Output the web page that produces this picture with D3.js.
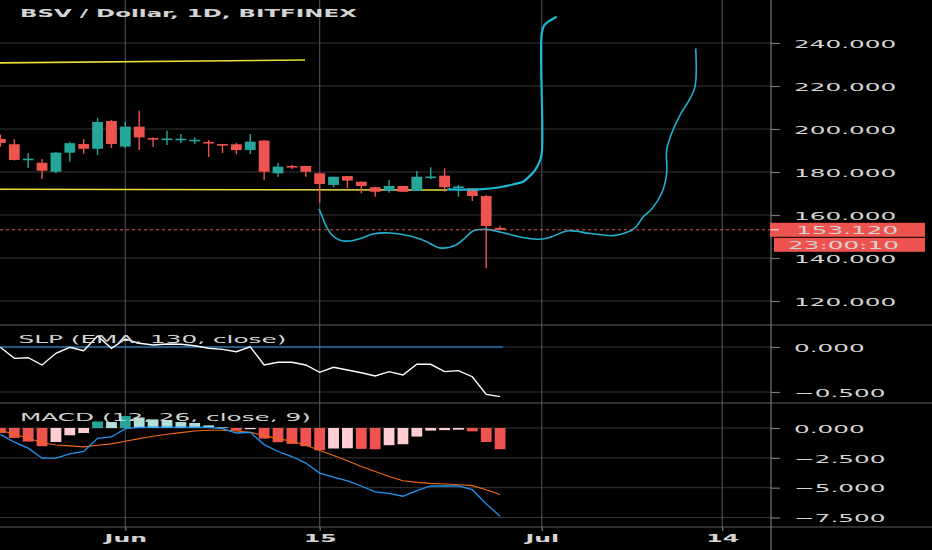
<!doctype html>
<html lang="en">
<head>
<meta charset="utf-8">
<title>BSV / Dollar, 1D, BITFINEX</title>
<script src="https://cdn.jsdelivr.net/npm/d3@7"></script>
<style>
  html, body { margin: 0; padding: 0; background: #000; }
  svg { display: block; background: #000; }
  text { font-family: "DejaVu Sans", sans-serif; fill: #d4d4d4; }
</style>
</head>
<body>
<svg></svg>
<script>
    var width = 932;
    var height = 550;

    // daily candles, first one is May 23
    var openP  = [195.4, 192.9, 185.8, 184.3, 180.1, 189.0, 193.0, 190.8, 203.7, 191.8, 201.1, 195.8, 195.2, 195.2, 194.7, 194.0, 193.0, 192.9, 190.2, 194.6, 179.4, 182.8, 182.8, 179.4, 174.0, 178.1, 175.5, 172.9, 171.2, 173.5, 171.2, 177.6, 178.3, 173.0, 172.4, 168.8, 154.0];
    var highP  = [197.5, 195.2, 188.8, 186.0, 189.4, 194.1, 195.3, 205.1, 204.2, 203.4, 208.5, 196.0, 199.2, 197.7, 196.0, 194.9, 193.1, 193.6, 197.7, 194.9, 184.2, 183.3, 182.8, 179.7, 177.8, 178.1, 175.5, 172.9, 176.3, 173.5, 180.5, 182.2, 181.7, 174.0, 172.4, 169.3, 155.0];
    var lowP   = [191.8, 185.3, 181.9, 176.7, 179.4, 184.8, 188.4, 187.9, 191.2, 191.2, 190.2, 191.6, 192.6, 193.5, 192.9, 187.0, 188.8, 188.2, 188.4, 176.3, 177.8, 181.4, 177.8, 165.7, 172.9, 172.4, 170.1, 168.5, 170.4, 170.6, 171.2, 176.6, 170.8, 168.5, 166.5, 135.2, 153.0];
    var closeP = [193.5, 185.6, 186.2, 180.6, 189.0, 193.4, 190.8, 203.3, 193.0, 201.1, 196.1, 195.5, 195.6, 195.5, 195.0, 193.7, 192.7, 190.2, 194.1, 180.1, 182.5, 182.5, 180.1, 174.4, 177.8, 176.0, 173.5, 170.8, 173.5, 170.8, 177.8, 177.9, 172.9, 173.3, 168.8, 154.9, 153.12];

    var slp = [-0.003, -0.126, -0.119, -0.2, -0.07, -0.003, -0.041, 0.122, -0.014, 0.089, 0.041, 0.022, 0.033, 0.03, 0.014, -0.014, -0.026, -0.052, 0.003, -0.2, -0.17, -0.17, -0.2, -0.281, -0.226, -0.256, -0.286, -0.322, -0.274, -0.311, -0.192, -0.192, -0.274, -0.263, -0.33, -0.526, -0.552];

    var macdHist = [-0.42, -0.83, -1.14, -1.53, -1.17, -0.61, -0.42, 0.55, 0.5, 1.0, 0.88, 0.72, 0.62, 0.5, 0.42, 0.22, 0.06, -0.22, -0.1, -0.89, -1.19, -1.33, -1.53, -1.86, -1.72, -1.70, -1.75, -1.78, -1.44, -1.36, -0.72, -0.22, -0.18, -0.14, -0.28, -1.17, -1.78];
    var macdLine = [-0.53, -1.19, -1.69, -2.53, -2.53, -2.17, -1.97, -0.86, -0.75, -0.06, 0.06, 0.08, 0.08, 0.08, 0.08, 0.06, -0.05, -0.42, -0.36, -1.39, -1.97, -2.39, -2.94, -3.78, -4.11, -4.44, -4.86, -5.36, -5.47, -5.72, -5.25, -4.86, -4.86, -4.86, -5.17, -6.36, -7.39];
    var signalLine = [-0.19, -0.53, -0.86, -1.22, -1.42, -1.5, -1.58, -1.44, -1.33, -1.11, -0.89, -0.69, -0.53, -0.39, -0.25, -0.19, -0.19, -0.25, -0.36, -0.64, -0.89, -1.11, -1.42, -1.89, -2.31, -2.75, -3.22, -3.64, -4.06, -4.42, -4.56, -4.64, -4.69, -4.75, -4.83, -5.17, -5.58];

    // drawings: [day index, price]
    var upperYellow = [[-1, 230.7], [21.95, 232.1]];
    var lowerYellow = [[-1, 172.0], [32.2, 171.6]];
    var cyanUpper = [[32.2, 171.95], [34.5, 171.95], [36.0, 172.9], [37.05, 174.4], [37.65, 175.5], [38.15, 178.2], [38.52, 180.9], [38.8, 184.2], [39.0, 188.7], [39.0, 244.5], [39.2, 248.4], [39.47, 249.9], [40.08, 252.2]];
    var cyanLower = [[22.95, 162.8], [23.17, 159.5], [23.46, 154.9], [23.89, 150.7], [24.47, 148.3], [25.19, 147.9], [26.05, 149.3], [26.84, 151.2], [28.07, 151.6], [29.51, 150.2], [30.59, 147.9], [31.67, 144.7], [32.75, 145.8], [33.47, 149.3], [34.05, 152.6], [34.99, 153.3], [35.99, 152.1], [37.43, 149.8], [38.88, 148.7], [39.6, 149.6], [40.89, 152.7], [42.48, 151.4], [44.13, 150.4], [44.99, 151.6], [45.72, 154.0], [46.3, 159.1], [46.92, 162.8], [47.64, 170.1], [48.0, 179.4], [48.0, 190.2], [48.36, 198.0], [48.96, 206.5], [49.56, 212.7], [50.04, 219.7], [50.09, 237.5]];

    var priceTicks = [120, 140, 160, 180, 200, 220, 240];
    var slpTicks = [0, -0.5];
    var macdTicks = [0, -2.5, -5, -7.5];
    var dateTickIdx = [9, 23, 39, 52];
    var dateTickLabels = ["Jun", "15", "Jul", "14"];
    var lastPrice = 153.12;
    var countdown = "23:00:10";

    var SX = 2.25;       // screenshot text is stretched sideways
    var axisX = 771;
    var red = "#ef5350", green = "#26a69a";

    var svg = d3.select("svg").attr("width", width).attr("height", height);

    var x = d3.scaleLinear().domain([0, 52]).range([0.4, 722.2]);
    var yP = d3.scaleLinear().domain([120, 240]).range([301, 43]);
    var yS = d3.scaleLinear().domain([-0.5, 0]).range([392, 347]);
    var yM = d3.scaleLinear().domain([-7.5, 0]).range([517.5, 428]);

    var defs = svg.append("defs");
    function clip(id, y0, y1) {
        defs.append("clipPath").attr("id", id).append("rect")
            .attr("x", 0).attr("y", y0).attr("width", axisX).attr("height", y1 - y0);
    }
    clip("cp", 0, 325);
    clip("cs", 325, 403);
    clip("cm", 403, 527);

    // grid
    var grid = svg.append("g");
    function hgrid(vals, scale) {
        grid.selectAll(null).data(vals).enter().append("line")
            .attr("x1", 0).attr("x2", axisX)
            .attr("y1", function (d) { return scale(d); })
            .attr("y2", function (d) { return scale(d); })
            .attr("stroke", "#363636").attr("stroke-width", 1);
    }
    hgrid(priceTicks, yP);
    hgrid(slpTicks, yS);
    hgrid(macdTicks, yM);

    grid.selectAll(null).data(dateTickIdx).enter().append("line")
        .attr("x1", function (d) { return x(d); }).attr("x2", function (d) { return x(d); })
        .attr("y1", 0).attr("y2", 527)
        .attr("stroke", "#46475c").attr("stroke-width", 1.2);

    // panel separators + price scale border
    svg.selectAll(null).data([325, 403, 527]).enter().append("line")
        .attr("x1", 0).attr("x2", width).attr("y1", function (d) { return d; }).attr("y2", function (d) { return d; })
        .attr("stroke", "#5c5c5c").attr("stroke-width", 1.2);
    svg.append("line").attr("x1", axisX).attr("x2", axisX).attr("y1", 0).attr("y2", height)
        .attr("stroke", "#777").attr("stroke-width", 1.2);

    // ---- price panel
    var pg = svg.append("g").attr("clip-path", "url(#cp)");
    var ptLine = d3.line().x(function (d) { return x(d[0]); }).y(function (d) { return yP(d[1]); });

    pg.append("path").datum(upperYellow).attr("d", ptLine)
        .attr("fill", "none").attr("stroke", "#e8df3a").attr("stroke-width", 1.6);
    pg.append("path").datum(lowerYellow).attr("d", ptLine)
        .attr("fill", "none").attr("stroke", "#e8df3a").attr("stroke-width", 1.6);

    var idx = d3.range(openP.length);
    var bw = 10.8;
    function col(i) { return closeP[i] >= openP[i] ? green : red; }

    pg.selectAll("line.wick").data(idx).enter().append("line")
        .attr("class", "wick")
        .attr("x1", function (i) { return x(i); }).attr("x2", function (i) { return x(i); })
        .attr("y1", function (i) { return yP(highP[i]); }).attr("y2", function (i) { return yP(lowP[i]); })
        .attr("stroke", col).attr("stroke-width", 1.4);

    pg.selectAll("rect.body").data(idx).enter().append("rect")
        .attr("class", "body")
        .attr("x", function (i) { return x(i) - bw / 2; })
        .attr("y", function (i) { return yP(Math.max(openP[i], closeP[i])); })
        .attr("width", bw)
        .attr("height", function (i) { return Math.max(1.6, Math.abs(yP(openP[i]) - yP(closeP[i]))); })
        .attr("fill", col);

    var cyLine = d3.line().curve(d3.curveCatmullRom.alpha(0.5))
        .x(function (d) { return x(d[0]); }).y(function (d) { return yP(d[1]); });
    pg.append("path").datum(cyanLower).attr("d", cyLine)
        .attr("fill", "none").attr("stroke", "#1fb1cc").attr("stroke-width", 1.6);
    pg.append("path").datum(cyanUpper).attr("d", cyLine)
        .attr("fill", "none").attr("stroke", "#1fb8d4").attr("stroke-width", 2.2);

    // last price line
    svg.append("line").attr("x1", 0).attr("x2", axisX)
        .attr("y1", yP(lastPrice)).attr("y2", yP(lastPrice))
        .attr("stroke", red).attr("stroke-width", 1).attr("stroke-dasharray", "3,3");

    // ---- SLP panel
    var sg = svg.append("g").attr("clip-path", "url(#cs)");
    sg.append("line").attr("x1", x(-1)).attr("x2", x(36.2))
        .attr("y1", yS(0)).attr("y2", yS(0))
        .attr("stroke", "#2196f3").attr("stroke-width", 1);
    sg.append("path").datum(slp)
        .attr("d", d3.line().x(function (d, i) { return x(i); }).y(function (d) { return yS(d); }))
        .attr("fill", "none").attr("stroke", "#fff").attr("stroke-width", 1.4);

    // ---- MACD panel
    var mg = svg.append("g").attr("clip-path", "url(#cm)");
    function histCol(d, i) {
        var prev = i > 0 ? macdHist[i - 1] : 0;
        if (d >= 0) return d >= prev ? "#26a69a" : "#b2dfdb";
        return d <= prev ? "#ef5350" : "#ffcdd2";
    }
    mg.selectAll("rect").data(macdHist).enter().append("rect")
        .attr("x", function (d, i) { return x(i) - bw / 2; })
        .attr("y", function (d) { return Math.min(yM(d), yM(0)); })
        .attr("width", bw)
        .attr("height", function (d) { return Math.abs(yM(d) - yM(0)); })
        .attr("fill", histCol);
    var mLine = d3.line().x(function (d, i) { return x(i); }).y(function (d) { return yM(d); });
    mg.append("path").datum(signalLine).attr("d", mLine)
        .attr("fill", "none").attr("stroke", "#f26a0f").attr("stroke-width", 1.1);
    mg.append("path").datum(macdLine).attr("d", mLine)
        .attr("fill", "none").attr("stroke", "#2196f3").attr("stroke-width", 1.3);

    // ---- axes
    function styleAxis(g) {
        g.select(".domain").remove();
        g.selectAll(".tick line").attr("stroke", "#777").attr("stroke-width", 1.2);
        g.selectAll(".tick text")
            .attr("fill", "#d4d4d4").attr("font-size", "11px")
            .attr("font-family", "DejaVu Sans, sans-serif");
    }
    function rightAxis(scale, ticks) {
        var g = svg.append("g").attr("transform", "translate(" + axisX + ",0)")
            .call(d3.axisRight(scale).tickValues(ticks).tickSize(9).tickFormat(d3.format(".3f")));
        styleAxis(g);
        g.selectAll(".tick text").attr("x", 23 / SX).attr("dy", "0.38em")
            .attr("transform", "scale(" + SX + ",1)");
    }
    rightAxis(yP, priceTicks);
    rightAxis(yS, slpTicks);
    rightAxis(yM, macdTicks);

    var xg = svg.append("g").attr("transform", "translate(0,527)")
        .call(d3.axisBottom(x).tickValues(dateTickIdx).tickSize(4)
            .tickFormat(function (d, i) { return dateTickLabels[i]; }));
    styleAxis(xg);
    xg.selectAll(".tick text").attr("y", 8).attr("font-weight", "bold").attr("font-size", "10.5px")
        .attr("transform", "scale(" + SX + ",1)");

    // ---- last price tags
    var ly = yP(lastPrice);
    svg.append("rect").attr("x", 770).attr("y", ly - 7).attr("width", 155).attr("height", 14).attr("fill", red);
    svg.append("line").attr("x1", 771).attr("x2", 779).attr("y1", ly).attr("y2", ly).attr("stroke", "#fff");
    svg.append("rect").attr("x", 774).attr("y", ly + 8).attr("width", 151).attr("height", 14).attr("fill", red);

    function label(px, py, str, size, weight, fill) {
        svg.append("text")
            .attr("transform", "translate(" + px + "," + py + ") scale(" + SX + ",1)")
            .attr("font-size", size).attr("font-weight", weight || "normal")
            .attr("fill", fill || "#d4d4d4")
            .text(str);
    }
    label(796, ly + 4, d3.format(".3f")(lastPrice), "11px", "normal", "#fff");
    label(788, ly + 19, countdown, "11px", "normal", "#fff");

    // ---- legends
    label(20, 16.7, "BSV / Dollar, 1D, BITFINEX", "10.2px", "bold", "#dcdcdc");
    label(18.5, 343, "SLP (EMA, 130, close)", "11px");
    label(20, 421, "MACD (12, 26, close, 9)", "11px");
</script>
</body>
</html>
